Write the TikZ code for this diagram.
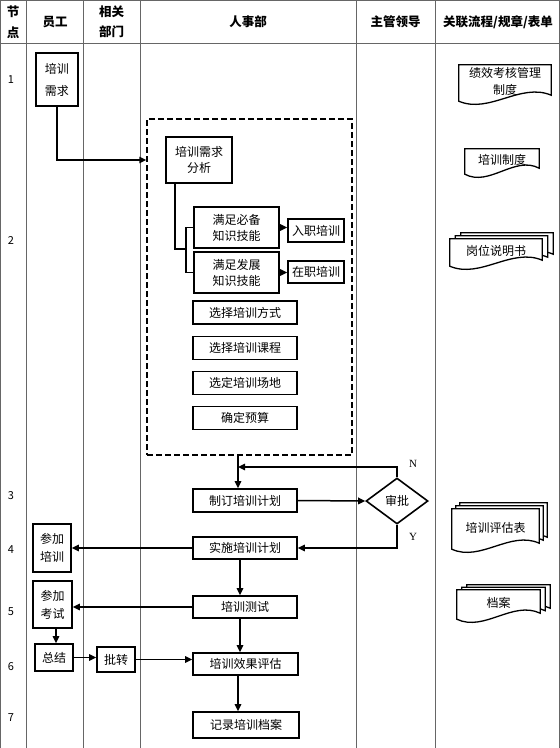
\documentclass[tikz,border=0pt]{standalone}
\usepackage{fontspec}
\setmainfont{Noto Sans CJK SC}
\newfontfamily\serifnum{Liberation Serif}
\usetikzlibrary{shapes.geometric,arrows.meta,calc,backgrounds}

\tikzset{
 gridline/.style={draw=black!60, line width=0.9pt},
 box/.style={draw=black, line width=1.6pt, inner sep=0pt, align=center, font=\fontsize{12}{16}\selectfont},
 conn/.style={line width=1.5pt},
 arr/.style={conn, -{Triangle[length=7pt,width=6.5pt]}},
 hdr/.style={font=\fontsize{12.5}{21}\selectfont\bfseries, align=center},
 num/.style={font=\fontsize{11}{13}\selectfont},
 yn/.style={font=\fontsize{11}{13}\selectfont\serifnum},
 doctext/.style={inner sep=0pt, align=center, font=\fontsize{12}{17}\selectfont},
 docline/.style={draw=black, line width=1.3pt, fill=white},
}

\newcommand{\docshape}[3]{%
 \draw[docline] ($(#1.north west)+(#2,-#3)$) -- ($(#1.north east)+(#2,-#3)$)
  -- ($(#1.south east)+(#2,-#3-3)$)
  .. controls ($(#1.south east)!0.33!(#1.south west)+(#2,-#3-16)$)
  and ($(#1.south east)!0.67!(#1.south west)+(#2,-#3+16)$)
  .. ($(#1.south west)+(#2,-#3+3)$) -- cycle;}

\begin{document}
\begin{tikzpicture}[x=1pt,y=-1pt]
\useasboundingbox (0,0) rectangle (560,748);
% grid
\draw[gridline] (0,0.5) -- (560,0.5);
\draw[gridline] (0,43) -- (560,43);
\foreach \x in {0.5,26,83,140,356,435,559.5} \draw[gridline] (\x,0) -- (\x,748);

% header
\node[hdr] (h0) at (13,22.5) {节\\点};
\node[hdr] (h1) at (55,22) {员工};
\node[hdr, font=\fontsize{12.5}{20}\selectfont\bfseries] (h2) at (111.5,22) {相关\\部门};
\node[hdr] (h3) at (248,22) {人事部};
\node[hdr] (h4) at (395.5,22) {主管领导};
\node[hdr] (h5) at (498,22) {关联流程/规章/表单};

% row numbers
\node[num] (r1) at (11,80) {1};
\node[num] (r2) at (11,240) {2};
\node[num] (r3) at (11,496) {3};
\node[num] (r4) at (11,550) {4};
\node[num] (r5) at (11,612) {5};
\node[num] (r6) at (11,667) {6};
\node[num] (r7) at (11,718) {7};

% boxes
\node[box, minimum width=42, minimum height=53, font=\fontsize{12}{22}\selectfont] (req) at (57,79.5) {培训\\需求};
\node[draw, dashed, line width=1.5pt, dash pattern=on 6pt off 3pt, minimum width=205, minimum height=336, inner sep=0pt] (dash) at (249.5,287) {};
\node[box, minimum width=66, minimum height=46] (ana) at (199,160) {培训需求\\分析};
\node[box, minimum width=85, minimum height=41] (bb1) at (236.5,227.5) {满足必备\\知识技能};
\node[box, minimum width=85, minimum height=41] (bb2) at (236.5,272.5) {满足发展\\知识技能};
\node[box, minimum width=56, minimum height=23] (rz) at (316,230.5) {入职培训};
\node[box, minimum width=56, minimum height=22] (zz) at (316,272) {在职培训};
\node[box, minimum width=104, minimum height=23] (s1) at (245,312.5) {选择培训方式};
\node[box, minimum width=104, minimum height=23] (s2) at (245,348) {选择培训课程};
\node[box, minimum width=104, minimum height=23] (s3) at (245,383) {选定培训场地};
\node[box, minimum width=104, minimum height=23] (s4) at (245,418) {确定预算};
\node[box, minimum width=104, minimum height=23] (plan) at (245,500.5) {制订培训计划};
\node[box, minimum width=104, minimum height=22] (impl) at (245,548) {实施培训计划};
\node[box, minimum width=104, minimum height=22] (test) at (245,607) {培训测试};
\node[box, minimum width=105, minimum height=22] (eval) at (245.5,664) {培训效果评估};
\node[box, minimum width=106, minimum height=26] (rec) at (246,725) {记录培训档案};
\node[box, minimum width=38, minimum height=48, font=\fontsize{12}{18}\selectfont] (join) at (52,548) {参加\\培训};
\node[box, minimum width=39, minimum height=47, font=\fontsize{12}{18}\selectfont] (exam) at (52.5,604.5) {参加\\考试};
\node[box, minimum width=38, minimum height=27] (sum) at (54,657.5) {总结};
\node[box, minimum width=38, minimum height=25] (pz) at (116,659.5) {批转};
\node[box, diamond, aspect=1.35, minimum width=62, minimum height=46] (dia) at (397,501) {审批};

% connectors
\draw[arr] (req.south) |- (dash.west |- ana.west);
\coordinate (brx) at (186,0);
\draw[conn] ([xshift=10pt]ana.south west) |- (brx |- bb1.south);
\draw[conn] (bb1.west) -- (bb1.west -| brx) -- (bb2.west -| brx) -- (bb2.west);
\draw[arr] (bb1.east) -- (rz.west |- bb1.east);
\draw[arr] (bb2.east) -- (zz.west |- bb2.east);
\coordinate (vx) at (238,0);
\draw[arr] (vx |- dash.south) -- (vx |- plan.north);
\coordinate (nY) at (238,467);
\draw[arr] (dia.north) |- (nY);
\draw[arr] (plan.east) -- (dia.west);
\draw[arr] (dia.south) |- (impl.east);
\draw[arr] (impl.west) -- (join.east |- impl.west);
\coordinate (vx2) at (240,0);
\draw[arr] (vx2 |- impl.south) -- (vx2 |- test.north);
\draw[arr] (test.west) -- (exam.east |- test.west);
\draw[arr] (vx2 |- test.south) -- (vx2 |- eval.north);
\coordinate (vx3) at (56,0);
\draw[arr] (vx3 |- exam.south) -- (vx3 |- sum.north);
\draw[arr] (sum.east) -- (pz.west |- sum.east);
\draw[arr] (pz.east) -- (eval.west |- pz.east);
\draw[arr] (vx |- eval.south) -- (vx |- rec.north);

\node[yn] (lN) at (413,464) {N};
\node[yn] (lY) at (413,537) {Y};

% documents
\node[doctext, minimum width=92, minimum height=33] (d1) at (505,81.5) {绩效考核管理\\制度};
\node[doctext, minimum width=74, minimum height=22] (d2) at (502,160) {培训制度};
\node[doctext, minimum width=92, minimum height=24] (d3) at (496,251) {岗位说明书};
\node[doctext, minimum width=87, minimum height=37] (d4) at (495.5,527.5) {培训评估表};
\node[doctext, minimum width=83, minimum height=26] (d5) at (498.5,603) {档案};

\begin{pgfonlayer}{background}
\docshape{d1}{0}{0}
\docshape{d2}{0}{0}
\docshape{d3}{11}{6}
\docshape{d3}{5.5}{3}
\docshape{d3}{0}{0}
\docshape{d4}{8}{6}
\docshape{d4}{4}{3}
\docshape{d4}{0}{0}
\docshape{d5}{10}{5}
\docshape{d5}{5}{2.5}
\docshape{d5}{0}{0}
\end{pgfonlayer}
\end{tikzpicture}
\end{document}
